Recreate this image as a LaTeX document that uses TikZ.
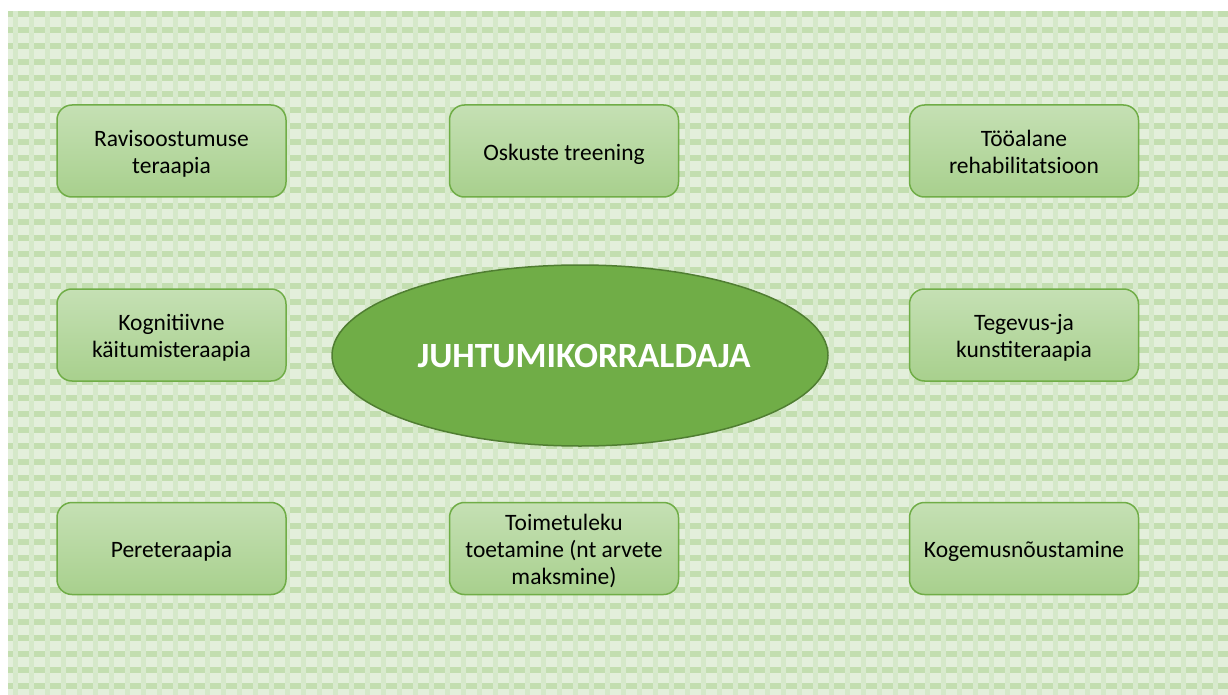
\documentclass[tikz,border=0pt]{standalone}
\usepackage{fontspec}
\setmainfont{Carlito}
\usetikzlibrary{shapes.geometric}
\definecolor{bgbase}{RGB}{227,239,219}
\definecolor{bgcol}{RGB}{213,232,201}
\definecolor{bgdark}{RGB}{195,222,176}
\definecolor{bgcross}{RGB}{216,234,205}
\definecolor{boxtop}{RGB}{197,224,180}
\definecolor{boxbot}{RGB}{168,208,141}
\definecolor{boxline}{RGB}{112,173,71}
\definecolor{ellfill}{RGB}{112,173,71}
\definecolor{ellline}{RGB}{80,126,50}
\newcommand{\bxt}[1]{\raisebox{-4pt}[\height][\depth]{\begin{tabular}{@{}c@{}}#1\end{tabular}}}
\tikzset{
  box/.style={draw=boxline, line width=1.5pt, rounded corners=15pt,
    top color=boxtop, bottom color=boxbot,
    minimum width=229pt, minimum height=92pt, inner sep=0pt,
    align=center, font=\fontsize{23.5}{27}\selectfont, text=black},
  hub/.style={ellipse, draw=ellline, line width=1.5pt, fill=ellfill,
    minimum width=496pt, minimum height=181pt, inner sep=0pt,
    font=\fontsize{35.5}{40}\selectfont\bfseries, text=white}
}
\begin{document}
\begin{tikzpicture}[x=1pt,y=-1pt]
\useasboundingbox (0,0) rectangle (1228,695);
\begin{scope}
  \clip (8,11) rectangle (1228,695);
  \fill[bgbase] (8,11) rectangle (1228,695);
  \foreach \x in {13,29,...,1228} \fill[bgcol] (\x,11) rectangle (\x+5,695);
  \foreach \y in {11,27,...,695} \fill[bgdark] (8,\y) rectangle (1228,\y+6);
  \begin{scope}
    \clip \foreach \y in {11,27,...,695} {(8,\y) rectangle (1228,\y+6)};
    \foreach \x in {13,29,...,1228} \fill[bgcross] (\x,11) rectangle (\x+5,695);
  \end{scope}
\end{scope}
\node[box] (rav) at (171.5,151) {\bxt{Ravisoostumuse\\teraapia}};
\node[box] (osk) at (564,151) {\bxt{Oskuste treening}};
\node[box] (too) at (1024,151) {\bxt{Tööalane\\rehabilitatsioon}};
\node[box] (kog) at (171.5,335) {\bxt{Kognitiivne\\käitumisteraapia}};
\node[box] (teg) at (1024,335) {\bxt{Tegevus-ja\\kunstiteraapia}};
\node[box] (per) at (171.5,548.5) {\bxt{Pereteraapia}};
\node[box] (toi) at (564,548.5) {\bxt{Toimetuleku\\toetamine (nt arvete\\maksmine)}};
\node[box] (kgm) at (1024,548.5) {\bxt{Kogemusnõustamine}};
\node[hub] (juh) at (580,355.5) {\hspace*{8pt}JUHTUMIKORRALDAJA};
\end{tikzpicture}
\end{document}
